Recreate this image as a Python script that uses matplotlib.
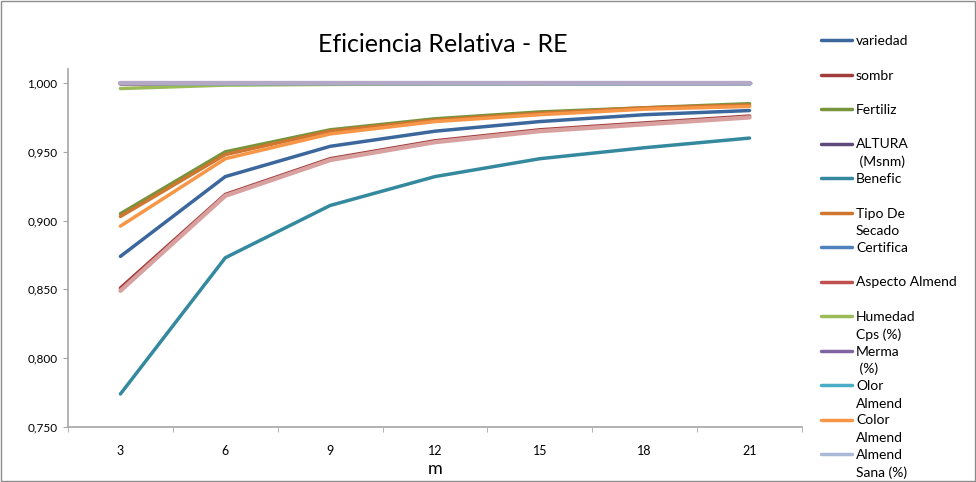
import matplotlib
matplotlib.use("Agg")
import matplotlib.pyplot as plt
from matplotlib.lines import Line2D
from matplotlib.patches import Rectangle

plt.rcParams['font.family'] = ['Lato', 'DejaVu Sans']

# Sample sizes (category axis)
m_values = [3, 6, 9, 12, 15, 18, 21]

# Relative efficiency per variable
variedad = [0.874, 0.932, 0.954, 0.965, 0.972, 0.977, 0.980]
sombr = [0.851, 0.919, 0.945, 0.958, 0.966, 0.971, 0.976]
fertiliz = [0.905, 0.950, 0.966, 0.974, 0.979, 0.982, 0.985]
altura = [1.000, 1.000, 1.000, 1.000, 1.000, 1.000, 1.000]
benefic = [0.774, 0.873, 0.911, 0.932, 0.945, 0.953, 0.960]
tipo_secado = [0.903, 0.948, 0.965, 0.973, 0.978, 0.982, 0.984]
certifica = [1.000, 1.000, 1.000, 1.000, 1.000, 1.000, 1.000]
aspecto = [0.9992, 0.9996, 0.9998, 0.9999, 1.000, 1.000, 1.000]
humedad = [0.996, 0.9985, 0.9990, 0.9993, 0.9995, 0.9996, 0.9997]
merma = [1.000, 1.000, 1.000, 1.000, 1.000, 1.000, 1.000]
olor = [1.000, 1.000, 1.000, 1.000, 1.000, 1.000, 1.000]
color_almend = [0.896, 0.945, 0.963, 0.972, 0.977, 0.981, 0.983]
almend_sana = [1.000, 1.000, 1.000, 1.000, 1.000, 1.000, 1.000]
# further series not listed in the legend box
defectos = [0.849, 0.918, 0.944, 0.957, 0.965, 0.970, 0.975]
impurezas = [1.000, 1.000, 1.000, 1.000, 1.000, 1.000, 1.000]

series_names = ["variedad", "sombr", "Fertiliz", "ALTURA (Msnm)", "Benefic",
                "Tipo De Secado", "Certifica", "Aspecto Almend",
                "Humedad Cps (%)", "Merma (%)", "Olor Almend", "Color Almend",
                "Almend Sana (%)"]
legend_lines = [["variedad"], ["sombr"], ["Fertiliz"], ["ALTURA", " (Msnm)"],
                ["Benefic"], ["Tipo De", "Secado"], ["Certifica"],
                ["Aspecto Almend"], ["Humedad", "Cps (%)"], ["Merma", " (%)"],
                ["Olor", "Almend"], ["Color", "Almend"], ["Almend", "Sana (%)"]]
series_values = [variedad, sombr, fertiliz, altura, benefic, tipo_secado,
                 certifica, aspecto, humedad, merma, olor, color_almend,
                 almend_sana]
series_colors = ["#3C679C", "#A03D3A", "#77933C", "#604A7B", "#35899F",
                 "#CF7630", "#4F81BD", "#C0504D", "#9BBB59", "#8064A2",
                 "#4BACC6", "#F79646", "#A9B9D6"]

y_ticks = [0.75, 0.80, 0.85, 0.90, 0.95, 1.00]
y_tick_labels = ["0,750", "0,800", "0,850", "0,900", "0,950", "1,000"]

W, H = 976, 482
fig = plt.figure(figsize=(W / 100, H / 100), dpi=100)
ax = fig.add_axes([68 / W, 1 - 427 / H, (802 - 68) / W, (427 - 69) / H])

xpos = list(range(len(m_values)))
for vals, name, col in zip(series_values, series_names, series_colors):
    ax.plot(xpos, vals, color=col, lw=2.5, solid_capstyle='round',
            solid_joinstyle='round', label=name)
ax.plot(xpos, defectos, color="#D8A1A0", lw=3.1, solid_capstyle='round',
        solid_joinstyle='round', label="_defectos")
ax.plot(xpos, impurezas, color="#B3A8C6", lw=3.1, solid_capstyle='round',
        solid_joinstyle='round', label="_impurezas")

ax.set_xlim(-0.5, len(m_values) - 0.5)
ax.set_ylim(0.75, 1.0102)
ax.set_xticks(xpos)
ax.set_xticklabels([str(v) for v in m_values])
ax.set_xticks([i - 0.5 for i in range(len(m_values) + 1)], minor=True)
ax.tick_params(axis='x', which='major', length=0, pad=13, labelsize=9)
ax.tick_params(axis='x', which='minor', length=3.6, color="#A6A6A6", direction='out')
ax.set_yticks(y_ticks)
ax.set_yticklabels(y_tick_labels)
ax.tick_params(axis='y', length=3.6, color="#A6A6A6", direction='out', pad=4,
               labelsize=8.5)
for s in ("top", "right"):
    ax.spines[s].set_visible(False)
for s in ("left", "bottom"):
    ax.spines[s].set_color("#A6A6A6")
    ax.spines[s].set_linewidth(1.2)

ax.set_xlabel("m", fontsize=13, labelpad=3)
fig.text(443 / W, 1 - 45 / H, "Eficiencia Relativa - RE", fontsize=18,
         ha='center', va='center')

# Legend box drawn in figure pixels
y0, step, line_gap = 40, 34.5, 17.5
for i, (lines, col) in enumerate(zip(legend_lines, series_colors)):
    yc = y0 + i * step
    fig.add_artist(Line2D([821 / W, 852 / W], [1 - yc / H, 1 - yc / H],
                          transform=fig.transFigure, color=col, lw=2.5,
                          solid_capstyle='round'))
    for j, txt in enumerate(lines):
        fig.text(856 / W, 1 - (yc + j * line_gap) / H, txt, fontsize=10,
                 ha='left', va='center_baseline')

fig.add_artist(Rectangle((1 / W, 1 / H), (W - 2) / W, (H - 2) / H,
                         transform=fig.transFigure, fill=False,
                         edgecolor="#8C8C8C", lw=1))

fig.savefig("out.png", dpi=100)
